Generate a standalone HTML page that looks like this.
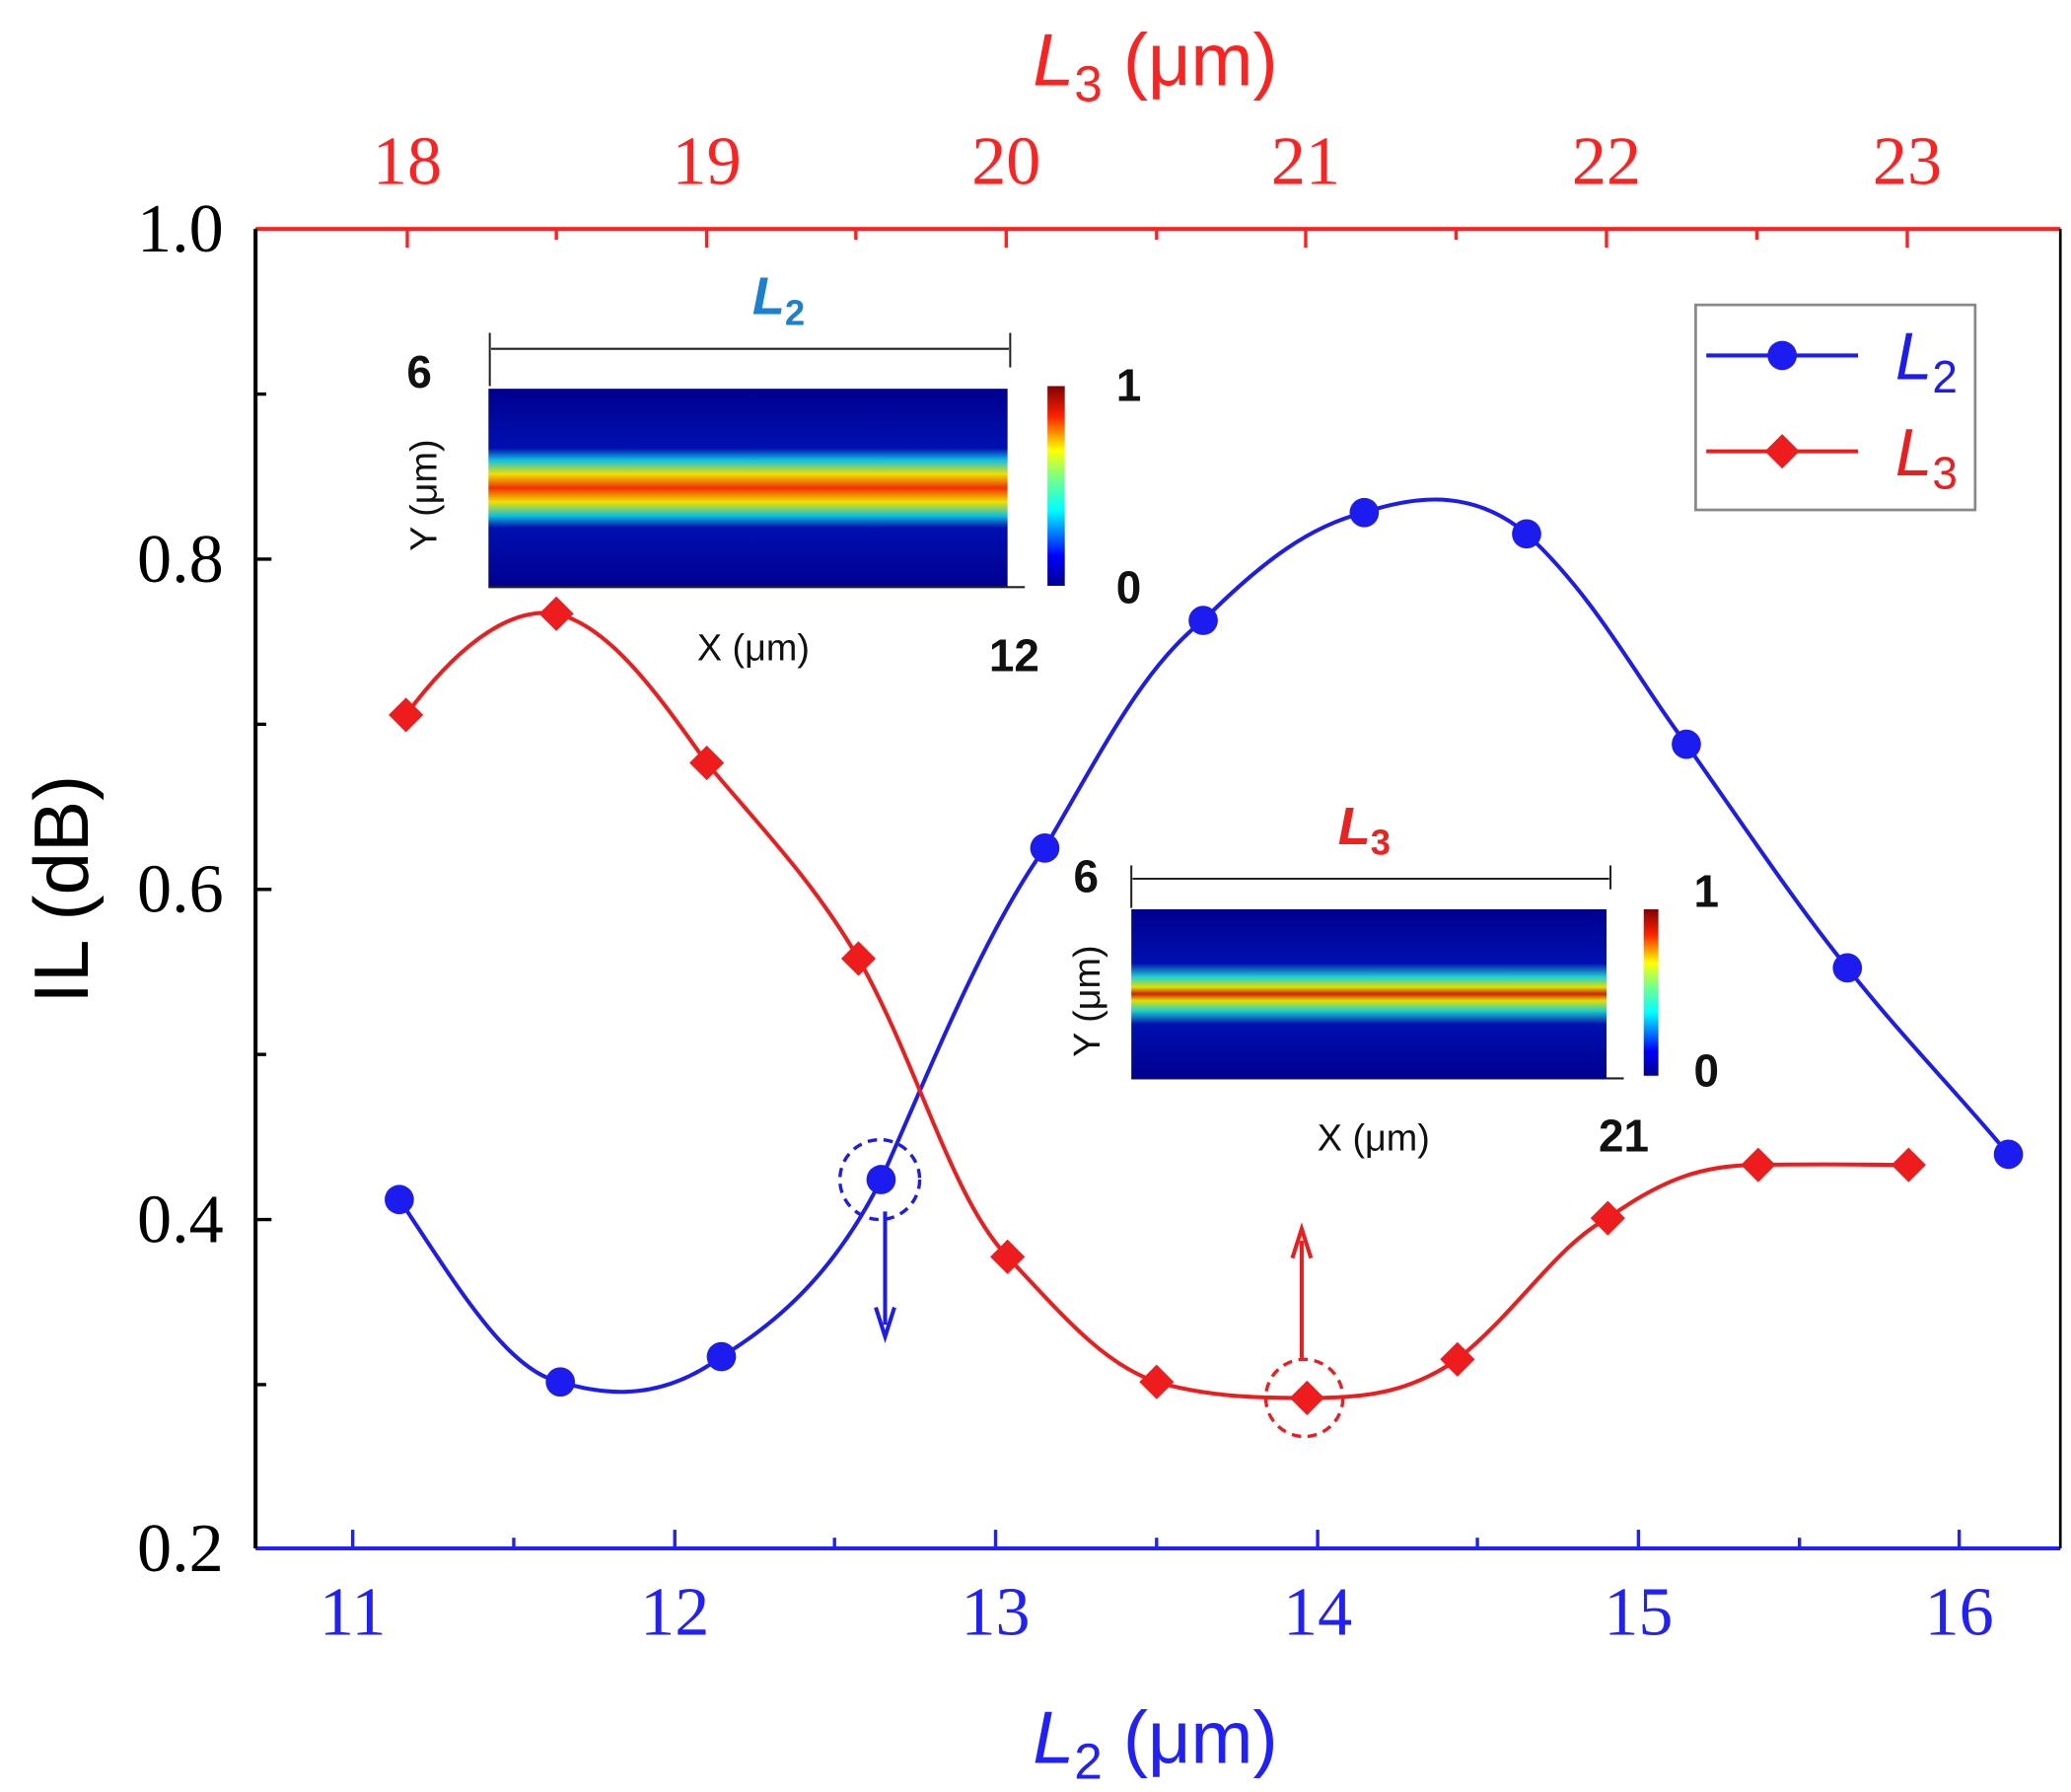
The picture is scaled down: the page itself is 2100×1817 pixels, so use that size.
<!DOCTYPE html>
<html><head><meta charset="utf-8"><style>html,body{margin:0;padding:0;background:#fff}svg{display:block}</style></head>
<body>
<svg width="2100" height="1817" viewBox="0 0 1556 1346" preserveAspectRatio="none" xmlns="http://www.w3.org/2000/svg">
<defs>
<linearGradient id="cb" x1="0" y1="1" x2="0" y2="0">
<stop offset="0" stop-color="#00008f"/><stop offset="0.15" stop-color="#0000ff"/><stop offset="0.38" stop-color="#00ffff"/><stop offset="0.55" stop-color="#80ff80"/><stop offset="0.68" stop-color="#ffff00"/><stop offset="0.85" stop-color="#ff2000"/><stop offset="1" stop-color="#800000"/>
</linearGradient>
<linearGradient id="h1" x1="0" y1="0" x2="0" y2="1">
<stop offset="0" stop-color="#00008f"/><stop offset="0.3" stop-color="#0010b0"/><stop offset="0.36" stop-color="#10c0e0"/><stop offset="0.43" stop-color="#f0e000"/><stop offset="0.5" stop-color="#f03000"/><stop offset="0.57" stop-color="#f0e000"/><stop offset="0.64" stop-color="#10c0e0"/><stop offset="0.7" stop-color="#0010b0"/><stop offset="1" stop-color="#00008f"/>
</linearGradient>
<linearGradient id="h2" x1="0" y1="0" x2="0" y2="1">
<stop offset="0" stop-color="#00008f"/><stop offset="0.32" stop-color="#0010b0"/><stop offset="0.4" stop-color="#20d0d0"/><stop offset="0.46" stop-color="#e0e000"/><stop offset="0.5" stop-color="#d02000"/><stop offset="0.54" stop-color="#e0e000"/><stop offset="0.6" stop-color="#20d0d0"/><stop offset="0.68" stop-color="#0010b0"/><stop offset="1" stop-color="#00008f"/>
</linearGradient>
</defs>
<g font-family="Liberation Serif, serif" font-size="52">
<line x1="192" y1="172" x2="1548" y2="172" stroke="#ff2020" stroke-width="3"/>
<line x1="192" y1="1163" x2="1548" y2="1163" stroke="#2020ff" stroke-width="3"/>
<line x1="192" y1="172" x2="192" y2="1163" stroke="#000" stroke-width="3"/>
<line x1="1548" y1="172" x2="1548" y2="1163" stroke="#000" stroke-width="2"/>
<g stroke="#000" stroke-width="2.5">
<line x1="192" y1="420" x2="204" y2="420"/><line x1="192" y1="668" x2="204" y2="668"/><line x1="192" y1="916" x2="204" y2="916"/>
<line x1="192" y1="296" x2="200" y2="296"/><line x1="192" y1="544" x2="200" y2="544"/><line x1="192" y1="792" x2="200" y2="792"/><line x1="192" y1="1040" x2="200" y2="1040"/>
</g>
<g text-anchor="end" fill="#000"><text x="168" y="189">1.0</text><text x="168" y="437">0.8</text><text x="168" y="685">0.6</text><text x="168" y="933">0.4</text><text x="168" y="1180">0.2</text></g>
<g stroke="#2020ff" stroke-width="2.5">
<line x1="265" y1="1163" x2="265" y2="1149"/><line x1="507" y1="1163" x2="507" y2="1149"/><line x1="748" y1="1163" x2="748" y2="1149"/><line x1="990" y1="1163" x2="990" y2="1149"/><line x1="1231" y1="1163" x2="1231" y2="1149"/><line x1="1472" y1="1163" x2="1472" y2="1149"/>
<line x1="386" y1="1163" x2="386" y2="1155"/><line x1="627" y1="1163" x2="627" y2="1155"/><line x1="869" y1="1163" x2="869" y2="1155"/><line x1="1110" y1="1163" x2="1110" y2="1155"/><line x1="1352" y1="1163" x2="1352" y2="1155"/>
</g>
<g text-anchor="middle" fill="#2020ff"><text x="265" y="1228">11</text><text x="507" y="1228">12</text><text x="748" y="1228">13</text><text x="990" y="1228">14</text><text x="1231" y="1228">15</text><text x="1472" y="1228">16</text></g>
<g stroke="#ff2020" stroke-width="2.5">
<line x1="306" y1="172" x2="306" y2="186"/><line x1="531" y1="172" x2="531" y2="186"/><line x1="756" y1="172" x2="756" y2="186"/><line x1="981" y1="172" x2="981" y2="186"/><line x1="1207" y1="172" x2="1207" y2="186"/><line x1="1433" y1="172" x2="1433" y2="186"/>
<line x1="418" y1="172" x2="418" y2="180"/><line x1="643" y1="172" x2="643" y2="180"/><line x1="869" y1="172" x2="869" y2="180"/><line x1="1094" y1="172" x2="1094" y2="180"/><line x1="1320" y1="172" x2="1320" y2="180"/>
</g>
<g text-anchor="middle" fill="#ff2020"><text x="306" y="138">18</text><text x="531" y="138">19</text><text x="756" y="138">20</text><text x="981" y="138">21</text><text x="1207" y="138">22</text><text x="1433" y="138">23</text></g>
</g>
<g font-family="Liberation Sans, sans-serif" font-size="56">
<text x="868" y="64" text-anchor="middle" fill="#ff2020"><tspan font-style="italic">L</tspan><tspan font-size="38" dy="12">3</tspan><tspan dy="-12"> (μm)</tspan></text>
<text x="868" y="1324" text-anchor="middle" fill="#2020ff"><tspan font-style="italic">L</tspan><tspan font-size="38" dy="12">2</tspan><tspan dy="-12"> (μm)</tspan></text>
<text transform="translate(66,668) rotate(-90)" text-anchor="middle" fill="#000" font-size="58">IL (dB)</text>
</g>
<rect x="367" y="292" width="390" height="149" fill="url(#h1)"/>
<rect x="787" y="290" width="13" height="150" fill="url(#cb)"/>
<g stroke="#222" stroke-width="1.5" fill="#222">
<line x1="369" y1="262" x2="758" y2="262"/><line x1="368" y1="250" x2="368" y2="290"/><line x1="759" y1="250" x2="759" y2="276"/>
<line x1="367" y1="441" x2="770" y2="441"/>
<line x1="851" y1="660" x2="1209" y2="660"/><line x1="850" y1="650" x2="850" y2="682"/><line x1="1210" y1="650" x2="1210" y2="668"/>
<line x1="850" y1="810" x2="1220" y2="810"/>
</g>
<g font-family="Liberation Sans, sans-serif" font-weight="bold" fill="#111" font-size="34">
<text x="315" y="291" text-anchor="middle">6</text><text x="848" y="301" text-anchor="middle">1</text><text x="848" y="453" text-anchor="middle">0</text><text x="762" y="504" text-anchor="middle">12</text>
<text x="816" y="670" text-anchor="middle">6</text><text x="1282" y="681" text-anchor="middle">1</text><text x="1282" y="816" text-anchor="middle">0</text><text x="1220" y="865" text-anchor="middle">21</text>
</g>
<g font-family="Liberation Sans, sans-serif" fill="#111" font-size="28">
<text x="566" y="496" text-anchor="middle">X (μm)</text>
<text transform="translate(328,372) rotate(-90)" text-anchor="middle">Y (μm)</text>
<text x="1032" y="864" text-anchor="middle">X (μm)</text>
<text transform="translate(826,752) rotate(-90)" text-anchor="middle">Y (μm)</text>
</g>
<text x="585" y="236" text-anchor="middle" font-family="Liberation Sans, sans-serif" font-weight="bold" font-style="italic" font-size="40" fill="#1a80d0">L<tspan font-size="27" dy="8" font-style="normal">2</tspan></text>
<text x="1025" y="634" text-anchor="middle" font-family="Liberation Sans, sans-serif" font-weight="bold" font-style="italic" font-size="40" fill="#ee2020">L<tspan font-size="27" dy="8" font-style="normal">3</tspan></text>
<rect x="850" y="683" width="357" height="127" fill="url(#h2)"/>
<rect x="1235" y="683" width="11" height="125" fill="url(#cb)"/>
<path d="M300,901 C340,960 380,1030 421,1038 C460,1050 500,1050 542,1019 C590,990 630,950 662,886 C700,800 740,700 785,637 C830,560 860,500 904,466 C950,420 985,395 1025,385 C1070,370 1110,370 1147,401 C1200,450 1230,510 1267,559 C1310,620 1350,680 1388,727 C1430,780 1470,820 1509,867" fill="none" stroke="#1c1cf0" stroke-width="3"/>
<path d="M305,537 C340,490 380,455 418,461 C460,470 500,530 531,573 C570,620 610,660 645,720 C690,800 715,900 757,944 C800,990 830,1025 869,1038 C910,1050 950,1050 982,1050 C1030,1050 1060,1045 1095,1021 C1140,985 1170,935 1208,915 C1250,885 1280,875 1321,875 C1380,874 1410,875 1434,875" fill="none" stroke="#ee1c1c" stroke-width="3"/>
<g fill="#1c1cf0">
<circle cx="300" cy="901" r="11"/><circle cx="421" cy="1038" r="11"/><circle cx="542" cy="1019" r="11"/><circle cx="662" cy="886" r="11"/><circle cx="785" cy="637" r="11"/><circle cx="904" cy="466" r="11"/><circle cx="1025" cy="385" r="11"/><circle cx="1147" cy="401" r="11"/><circle cx="1267" cy="559" r="11"/><circle cx="1388" cy="727" r="11"/><circle cx="1509" cy="867" r="11"/>
</g>
<g fill="#ee1c1c">
<path d="M305,524 l13,13 l-13,13 l-13,-13z"/><path d="M418,448 l13,13 l-13,13 l-13,-13z"/><path d="M531,560 l13,13 l-13,13 l-13,-13z"/><path d="M645,707 l13,13 l-13,13 l-13,-13z"/><path d="M757,931 l13,13 l-13,13 l-13,-13z"/><path d="M869,1025 l13,13 l-13,13 l-13,-13z"/><path d="M982,1037 l13,13 l-13,13 l-13,-13z"/><path d="M1095,1008 l13,13 l-13,13 l-13,-13z"/><path d="M1208,902 l13,13 l-13,13 l-13,-13z"/><path d="M1321,862 l13,13 l-13,13 l-13,-13z"/><path d="M1434,862 l13,13 l-13,13 l-13,-13z"/>
</g>
<circle cx="661" cy="886" r="30" fill="none" stroke="#1c1cf0" stroke-width="2.5" stroke-dasharray="7,5"/>
<circle cx="980" cy="1050" r="29" fill="none" stroke="#ee1c1c" stroke-width="2.5" stroke-dasharray="7,5"/>
<line x1="665" y1="910" x2="665" y2="995" stroke="#1c1cf0" stroke-width="3"/><path d="M658,982 L665,1004 L672,982" fill="none" stroke="#1c1cf0" stroke-width="3"/>
<line x1="978" y1="1020" x2="978" y2="932" stroke="#ee1c1c" stroke-width="3"/><path d="M971,945 L978,923 L985,945" fill="none" stroke="#ee1c1c" stroke-width="3"/>
<rect x="1274" y="229" width="210" height="154" fill="#fff" stroke="#888" stroke-width="2"/>
<line x1="1282" y1="267" x2="1396" y2="267" stroke="#1c1cf0" stroke-width="3"/><circle cx="1339" cy="267" r="11" fill="#1c1cf0"/>
<line x1="1282" y1="339" x2="1396" y2="339" stroke="#ee1c1c" stroke-width="3"/><path d="M1339,326 l13,13 l-13,13 l-13,-13z" fill="#ee1c1c"/>
<g font-family="Liberation Sans, sans-serif" font-size="50" font-style="italic">
<text x="1424" y="285" fill="#1c1cf0">L<tspan font-size="34" dy="10" font-style="normal">2</tspan></text>
<text x="1424" y="357" fill="#ee1c1c">L<tspan font-size="34" dy="10" font-style="normal">3</tspan></text>
</g>
</svg>
</body></html>
